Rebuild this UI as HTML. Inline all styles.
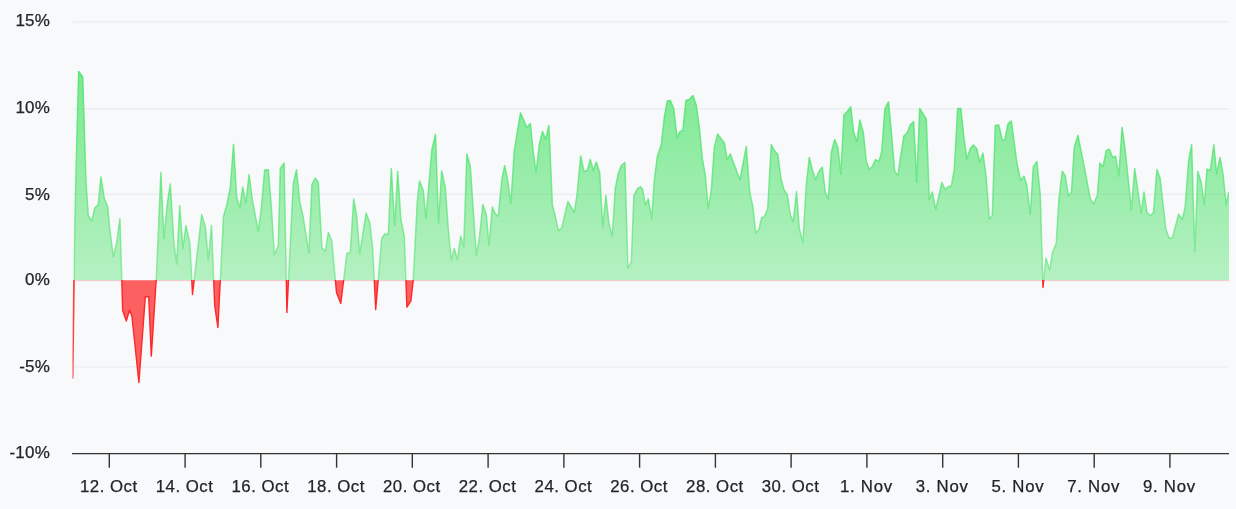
<!DOCTYPE html>
<html lang="en"><head><meta charset="utf-8"><title>Chart</title>
<style>
html,body{margin:0;padding:0;background:#f8f9fa;}
body{width:1236px;height:509px;overflow:hidden;}
svg{display:block;will-change:transform;}
text{font-family:"Liberation Sans", Arial, sans-serif;font-size:17px;fill:#212529;stroke:#212529;stroke-width:0.25px;}
.xl{font-size:16.8px;letter-spacing:0.5px;}
.xn{letter-spacing:0.72px;}
.yl{letter-spacing:0.2px;}
</style></head><body>
<svg width="1236" height="509" viewBox="0 0 1236 509">
<defs>
<linearGradient id="gg" gradientUnits="userSpaceOnUse" x1="0" y1="21" x2="0" y2="452">
<stop offset="0" stop-color="#55e472" stop-opacity="0.856"/>
<stop offset="1" stop-color="#55e472" stop-opacity="0.116"/>
</linearGradient>
<linearGradient id="lg" gradientUnits="userSpaceOnUse" x1="0" y1="21" x2="0" y2="452">
<stop offset="0" stop-color="#55e472" stop-opacity="1"/>
<stop offset="1" stop-color="#55e472" stop-opacity="0.3"/>
</linearGradient>
<clipPath id="cpos"><rect x="73" y="0" width="1156" height="280.0"/></clipPath>
<clipPath id="cneg"><rect x="76" y="280.0" width="1153" height="180"/></clipPath>
<clipPath id="cneg0"><rect x="72.5" y="280.0" width="4" height="180"/></clipPath>
</defs>
<rect x="0" y="0" width="1236" height="509" fill="#f8f9fa"/>

<path d="M73 21.8 H1229" stroke="#e9ecf0" stroke-width="1.2" fill="none"/>
<path d="M73 108.85 H1229" stroke="#e9ecf0" stroke-width="1.2" fill="none"/>
<path d="M73 194.3 H1229" stroke="#e9ecf0" stroke-width="1.2" fill="none"/>
<path d="M73 281.0 H1229" stroke="#e9ecf0" stroke-width="1.2" fill="none"/>
<path d="M73 366.8 H1229" stroke="#e9ecf0" stroke-width="1.2" fill="none"/>
<g clip-path="url(#cpos)"><g transform="translate(0.3,0.5)"><path d="M73.0 377.0 L74.5 225.0 L76.5 140.0 L78.4 71.0 L82.4 76.5 L84.4 140.0 L85.6 180.0 L88.0 215.0 L91.4 220.6 L94.4 207.6 L98.0 204.0 L100.6 176.6 L104.0 198.0 L107.4 206.0 L109.4 228.0 L113.0 256.4 L116.4 242.0 L119.6 218.0 L122.4 310.0 L126.0 320.6 L129.2 309.5 L131.6 315.5 L138.6 382.0 L145.0 296.4 L148.4 296.0 L151.0 355.6 L155.9 279.5 L157.6 241.5 L160.6 172.0 L163.6 238.0 L167.0 203.0 L170.0 183.6 L173.6 242.0 L176.4 263.4 L179.4 205.0 L182.6 248.0 L185.6 225.0 L189.6 243.0 L192.2 294.0 L201.4 214.0 L205.0 226.0 L208.0 259.4 L211.2 225.0 L214.4 305.0 L217.6 327.0 L223.2 216.0 L226.6 204.0 L230.0 187.0 L233.2 144.0 L236.4 197.0 L239.6 207.6 L242.4 186.4 L245.6 202.4 L248.8 174.0 L252.0 199.0 L258.0 231.0 L261.0 208.0 L264.4 169.6 L268.0 169.2 L271.0 206.0 L274.0 254.4 L278.0 245.0 L280.0 168.0 L283.8 162.6 L286.6 312.0 L293.0 183.0 L296.2 169.2 L299.4 201.0 L302.6 215.0 L308.6 252.6 L311.6 184.0 L315.0 177.6 L318.0 182.0 L321.6 247.0 L325.0 251.0 L328.0 232.0 L331.4 240.0 L336.2 292.0 L340.5 303.0 L346.6 253.0 L350.0 252.0 L353.4 198.4 L356.6 217.0 L359.4 253.4 L365.8 212.6 L369.4 222.0 L372.4 248.0 L375.4 309.0 L381.4 238.0 L384.4 233.4 L388.0 234.0 L391.0 168.0 L394.4 225.0 L397.4 171.0 L400.6 219.0 L404.0 236.0 L406.6 306.6 L410.5 300.7 L412.9 280.0 L417.0 201.0 L419.2 180.4 L423.0 190.0 L425.6 218.0 L431.6 149.0 L435.2 134.0 L438.2 222.6 L441.4 170.4 L445.0 187.0 L448.0 229.0 L451.0 259.4 L454.0 248.0 L457.0 259.4 L460.4 235.4 L463.4 246.6 L466.6 153.6 L470.0 166.0 L476.0 254.6 L479.0 238.0 L482.6 204.0 L486.0 214.0 L488.6 245.0 L492.0 206.4 L495.0 213.4 L498.0 215.6 L501.4 180.0 L504.4 165.0 L507.4 180.0 L510.6 203.0 L514.0 150.0 L520.2 112.4 L526.6 127.0 L530.0 123.0 L533.0 152.0 L535.8 172.0 L539.0 144.0 L542.2 131.0 L545.4 139.0 L548.6 125.0 L551.0 180.0 L552.0 204.0 L555.0 216.0 L558.0 230.0 L561.6 227.0 L567.6 201.0 L574.0 212.0 L577.0 192.0 L580.4 155.4 L583.6 171.0 L587.0 170.0 L590.0 159.0 L593.0 170.0 L596.0 161.4 L599.4 172.0 L602.4 226.4 L605.6 195.0 L608.6 223.0 L612.0 235.6 L615.0 188.0 L618.0 173.0 L621.0 165.0 L624.6 162.0 L627.6 268.0 L631.0 261.0 L633.6 195.0 L637.0 188.4 L640.0 186.3 L642.4 189.0 L645.0 204.4 L648.0 198.4 L651.4 218.4 L654.0 180.0 L657.0 156.0 L661.0 144.0 L664.0 117.0 L667.0 100.4 L670.0 100.0 L673.4 108.0 L676.8 137.4 L679.4 131.4 L682.6 129.6 L685.6 100.0 L689.0 99.0 L692.6 95.0 L696.0 105.0 L699.0 127.0 L702.0 158.0 L705.0 175.0 L708.0 208.0 L711.0 190.0 L714.0 147.0 L717.4 133.6 L724.0 142.4 L727.0 159.4 L730.0 153.4 L739.6 179.5 L746.0 146.0 L749.0 187.0 L750.0 195.0 L752.6 206.0 L755.4 232.4 L758.6 229.0 L761.4 217.0 L764.0 216.4 L767.4 208.4 L771.0 144.0 L774.0 150.0 L777.6 154.0 L780.6 178.0 L783.6 189.0 L787.0 194.4 L790.0 214.0 L793.0 221.4 L796.2 191.0 L799.0 228.0 L802.6 242.4 L806.0 184.0 L809.0 157.0 L812.2 170.0 L815.4 179.0 L818.6 171.0 L822.0 166.6 L825.0 192.0 L828.0 198.6 L831.0 152.0 L834.4 139.0 L837.6 147.0 L840.6 174.0 L843.6 114.6 L847.0 111.0 L850.4 106.4 L853.4 132.0 L856.6 141.0 L859.6 119.6 L863.0 132.0 L866.0 161.0 L869.0 169.0 L872.0 166.0 L875.2 159.0 L878.6 161.4 L881.4 151.0 L884.6 108.4 L888.2 101.4 L891.0 131.0 L894.4 171.0 L897.6 175.0 L900.6 154.0 L903.6 135.6 L907.0 132.0 L910.0 124.4 L913.4 121.0 L916.4 181.6 L919.4 108.0 L926.0 118.6 L929.0 199.0 L932.0 191.5 L935.4 209.0 L941.6 182.0 L945.0 189.4 L947.4 186.4 L951.0 185.6 L954.0 169.0 L957.4 108.0 L960.6 108.0 L963.6 137.0 L966.6 158.6 L970.0 148.0 L973.0 144.4 L976.4 148.0 L979.6 162.0 L982.6 152.6 L985.6 174.0 L989.0 218.4 L992.0 215.0 L995.0 125.0 L998.4 124.4 L1002.0 139.6 L1004.4 139.6 L1007.6 123.6 L1011.0 120.4 L1014.0 143.0 L1017.0 165.0 L1020.4 180.0 L1023.6 175.6 L1026.4 184.0 L1030.0 214.0 L1033.0 166.4 L1036.6 161.0 L1040.0 195.0 L1040.8 224.0 L1042.7 287.0 L1045.7 257.4 L1049.4 269.8 L1052.2 252.0 L1055.9 243.0 L1058.7 198.0 L1062.0 170.7 L1065.0 175.5 L1068.0 195.4 L1071.2 191.5 L1074.0 146.4 L1077.6 135.0 L1083.7 165.0 L1090.0 198.4 L1093.3 203.4 L1097.0 194.7 L1099.6 162.6 L1102.7 166.3 L1106.0 150.0 L1109.0 148.8 L1112.4 157.0 L1115.3 155.8 L1118.5 175.5 L1121.8 127.0 L1124.7 148.0 L1131.1 209.2 L1134.4 168.0 L1140.9 213.0 L1143.7 191.4 L1146.7 212.0 L1150.2 215.3 L1153.2 212.0 L1156.6 169.0 L1159.8 178.0 L1165.7 229.3 L1169.0 238.0 L1172.2 237.0 L1178.3 213.8 L1182.0 219.0 L1184.8 206.6 L1188.4 160.0 L1191.3 144.3 L1194.5 251.0 L1197.5 171.0 L1200.7 181.0 L1204.0 204.0 L1206.7 168.6 L1210.0 170.0 L1213.5 144.3 L1216.4 173.4 L1219.7 157.0 L1222.9 174.7 L1225.8 204.0 L1228.5 191.7 L1229.0 193.0 L1229.0 279.65 L73.0 279.65 Z" fill="url(#gg)" stroke="none"/><path d="M73.0 377.0 L74.5 225.0 L76.5 140.0 L78.4 71.0 L82.4 76.5 L84.4 140.0 L85.6 180.0 L88.0 215.0 L91.4 220.6 L94.4 207.6 L98.0 204.0 L100.6 176.6 L104.0 198.0 L107.4 206.0 L109.4 228.0 L113.0 256.4 L116.4 242.0 L119.6 218.0 L122.4 310.0 L126.0 320.6 L129.2 309.5 L131.6 315.5 L138.6 382.0 L145.0 296.4 L148.4 296.0 L151.0 355.6 L155.9 279.5 L157.6 241.5 L160.6 172.0 L163.6 238.0 L167.0 203.0 L170.0 183.6 L173.6 242.0 L176.4 263.4 L179.4 205.0 L182.6 248.0 L185.6 225.0 L189.6 243.0 L192.2 294.0 L201.4 214.0 L205.0 226.0 L208.0 259.4 L211.2 225.0 L214.4 305.0 L217.6 327.0 L223.2 216.0 L226.6 204.0 L230.0 187.0 L233.2 144.0 L236.4 197.0 L239.6 207.6 L242.4 186.4 L245.6 202.4 L248.8 174.0 L252.0 199.0 L258.0 231.0 L261.0 208.0 L264.4 169.6 L268.0 169.2 L271.0 206.0 L274.0 254.4 L278.0 245.0 L280.0 168.0 L283.8 162.6 L286.6 312.0 L293.0 183.0 L296.2 169.2 L299.4 201.0 L302.6 215.0 L308.6 252.6 L311.6 184.0 L315.0 177.6 L318.0 182.0 L321.6 247.0 L325.0 251.0 L328.0 232.0 L331.4 240.0 L336.2 292.0 L340.5 303.0 L346.6 253.0 L350.0 252.0 L353.4 198.4 L356.6 217.0 L359.4 253.4 L365.8 212.6 L369.4 222.0 L372.4 248.0 L375.4 309.0 L381.4 238.0 L384.4 233.4 L388.0 234.0 L391.0 168.0 L394.4 225.0 L397.4 171.0 L400.6 219.0 L404.0 236.0 L406.6 306.6 L410.5 300.7 L412.9 280.0 L417.0 201.0 L419.2 180.4 L423.0 190.0 L425.6 218.0 L431.6 149.0 L435.2 134.0 L438.2 222.6 L441.4 170.4 L445.0 187.0 L448.0 229.0 L451.0 259.4 L454.0 248.0 L457.0 259.4 L460.4 235.4 L463.4 246.6 L466.6 153.6 L470.0 166.0 L476.0 254.6 L479.0 238.0 L482.6 204.0 L486.0 214.0 L488.6 245.0 L492.0 206.4 L495.0 213.4 L498.0 215.6 L501.4 180.0 L504.4 165.0 L507.4 180.0 L510.6 203.0 L514.0 150.0 L520.2 112.4 L526.6 127.0 L530.0 123.0 L533.0 152.0 L535.8 172.0 L539.0 144.0 L542.2 131.0 L545.4 139.0 L548.6 125.0 L551.0 180.0 L552.0 204.0 L555.0 216.0 L558.0 230.0 L561.6 227.0 L567.6 201.0 L574.0 212.0 L577.0 192.0 L580.4 155.4 L583.6 171.0 L587.0 170.0 L590.0 159.0 L593.0 170.0 L596.0 161.4 L599.4 172.0 L602.4 226.4 L605.6 195.0 L608.6 223.0 L612.0 235.6 L615.0 188.0 L618.0 173.0 L621.0 165.0 L624.6 162.0 L627.6 268.0 L631.0 261.0 L633.6 195.0 L637.0 188.4 L640.0 186.3 L642.4 189.0 L645.0 204.4 L648.0 198.4 L651.4 218.4 L654.0 180.0 L657.0 156.0 L661.0 144.0 L664.0 117.0 L667.0 100.4 L670.0 100.0 L673.4 108.0 L676.8 137.4 L679.4 131.4 L682.6 129.6 L685.6 100.0 L689.0 99.0 L692.6 95.0 L696.0 105.0 L699.0 127.0 L702.0 158.0 L705.0 175.0 L708.0 208.0 L711.0 190.0 L714.0 147.0 L717.4 133.6 L724.0 142.4 L727.0 159.4 L730.0 153.4 L739.6 179.5 L746.0 146.0 L749.0 187.0 L750.0 195.0 L752.6 206.0 L755.4 232.4 L758.6 229.0 L761.4 217.0 L764.0 216.4 L767.4 208.4 L771.0 144.0 L774.0 150.0 L777.6 154.0 L780.6 178.0 L783.6 189.0 L787.0 194.4 L790.0 214.0 L793.0 221.4 L796.2 191.0 L799.0 228.0 L802.6 242.4 L806.0 184.0 L809.0 157.0 L812.2 170.0 L815.4 179.0 L818.6 171.0 L822.0 166.6 L825.0 192.0 L828.0 198.6 L831.0 152.0 L834.4 139.0 L837.6 147.0 L840.6 174.0 L843.6 114.6 L847.0 111.0 L850.4 106.4 L853.4 132.0 L856.6 141.0 L859.6 119.6 L863.0 132.0 L866.0 161.0 L869.0 169.0 L872.0 166.0 L875.2 159.0 L878.6 161.4 L881.4 151.0 L884.6 108.4 L888.2 101.4 L891.0 131.0 L894.4 171.0 L897.6 175.0 L900.6 154.0 L903.6 135.6 L907.0 132.0 L910.0 124.4 L913.4 121.0 L916.4 181.6 L919.4 108.0 L926.0 118.6 L929.0 199.0 L932.0 191.5 L935.4 209.0 L941.6 182.0 L945.0 189.4 L947.4 186.4 L951.0 185.6 L954.0 169.0 L957.4 108.0 L960.6 108.0 L963.6 137.0 L966.6 158.6 L970.0 148.0 L973.0 144.4 L976.4 148.0 L979.6 162.0 L982.6 152.6 L985.6 174.0 L989.0 218.4 L992.0 215.0 L995.0 125.0 L998.4 124.4 L1002.0 139.6 L1004.4 139.6 L1007.6 123.6 L1011.0 120.4 L1014.0 143.0 L1017.0 165.0 L1020.4 180.0 L1023.6 175.6 L1026.4 184.0 L1030.0 214.0 L1033.0 166.4 L1036.6 161.0 L1040.0 195.0 L1040.8 224.0 L1042.7 287.0 L1045.7 257.4 L1049.4 269.8 L1052.2 252.0 L1055.9 243.0 L1058.7 198.0 L1062.0 170.7 L1065.0 175.5 L1068.0 195.4 L1071.2 191.5 L1074.0 146.4 L1077.6 135.0 L1083.7 165.0 L1090.0 198.4 L1093.3 203.4 L1097.0 194.7 L1099.6 162.6 L1102.7 166.3 L1106.0 150.0 L1109.0 148.8 L1112.4 157.0 L1115.3 155.8 L1118.5 175.5 L1121.8 127.0 L1124.7 148.0 L1131.1 209.2 L1134.4 168.0 L1140.9 213.0 L1143.7 191.4 L1146.7 212.0 L1150.2 215.3 L1153.2 212.0 L1156.6 169.0 L1159.8 178.0 L1165.7 229.3 L1169.0 238.0 L1172.2 237.0 L1178.3 213.8 L1182.0 219.0 L1184.8 206.6 L1188.4 160.0 L1191.3 144.3 L1194.5 251.0 L1197.5 171.0 L1200.7 181.0 L1204.0 204.0 L1206.7 168.6 L1210.0 170.0 L1213.5 144.3 L1216.4 173.4 L1219.7 157.0 L1222.9 174.7 L1225.8 204.0 L1228.5 191.7 L1229.0 193.0" fill="none" stroke="url(#lg)" stroke-width="1.5" stroke-linejoin="round" stroke-linecap="round"/></g></g>
<g clip-path="url(#cneg)"><g transform="translate(0.3,0.5)"><path d="M73.0 377.0 L74.5 225.0 L76.5 140.0 L78.4 71.0 L82.4 76.5 L84.4 140.0 L85.6 180.0 L88.0 215.0 L91.4 220.6 L94.4 207.6 L98.0 204.0 L100.6 176.6 L104.0 198.0 L107.4 206.0 L109.4 228.0 L113.0 256.4 L116.4 242.0 L119.6 218.0 L122.4 310.0 L126.0 320.6 L129.2 309.5 L131.6 315.5 L138.6 382.0 L145.0 296.4 L148.4 296.0 L151.0 355.6 L155.9 279.5 L157.6 241.5 L160.6 172.0 L163.6 238.0 L167.0 203.0 L170.0 183.6 L173.6 242.0 L176.4 263.4 L179.4 205.0 L182.6 248.0 L185.6 225.0 L189.6 243.0 L192.2 294.0 L201.4 214.0 L205.0 226.0 L208.0 259.4 L211.2 225.0 L214.4 305.0 L217.6 327.0 L223.2 216.0 L226.6 204.0 L230.0 187.0 L233.2 144.0 L236.4 197.0 L239.6 207.6 L242.4 186.4 L245.6 202.4 L248.8 174.0 L252.0 199.0 L258.0 231.0 L261.0 208.0 L264.4 169.6 L268.0 169.2 L271.0 206.0 L274.0 254.4 L278.0 245.0 L280.0 168.0 L283.8 162.6 L286.6 312.0 L293.0 183.0 L296.2 169.2 L299.4 201.0 L302.6 215.0 L308.6 252.6 L311.6 184.0 L315.0 177.6 L318.0 182.0 L321.6 247.0 L325.0 251.0 L328.0 232.0 L331.4 240.0 L336.2 292.0 L340.5 303.0 L346.6 253.0 L350.0 252.0 L353.4 198.4 L356.6 217.0 L359.4 253.4 L365.8 212.6 L369.4 222.0 L372.4 248.0 L375.4 309.0 L381.4 238.0 L384.4 233.4 L388.0 234.0 L391.0 168.0 L394.4 225.0 L397.4 171.0 L400.6 219.0 L404.0 236.0 L406.6 306.6 L410.5 300.7 L412.9 280.0 L417.0 201.0 L419.2 180.4 L423.0 190.0 L425.6 218.0 L431.6 149.0 L435.2 134.0 L438.2 222.6 L441.4 170.4 L445.0 187.0 L448.0 229.0 L451.0 259.4 L454.0 248.0 L457.0 259.4 L460.4 235.4 L463.4 246.6 L466.6 153.6 L470.0 166.0 L476.0 254.6 L479.0 238.0 L482.6 204.0 L486.0 214.0 L488.6 245.0 L492.0 206.4 L495.0 213.4 L498.0 215.6 L501.4 180.0 L504.4 165.0 L507.4 180.0 L510.6 203.0 L514.0 150.0 L520.2 112.4 L526.6 127.0 L530.0 123.0 L533.0 152.0 L535.8 172.0 L539.0 144.0 L542.2 131.0 L545.4 139.0 L548.6 125.0 L551.0 180.0 L552.0 204.0 L555.0 216.0 L558.0 230.0 L561.6 227.0 L567.6 201.0 L574.0 212.0 L577.0 192.0 L580.4 155.4 L583.6 171.0 L587.0 170.0 L590.0 159.0 L593.0 170.0 L596.0 161.4 L599.4 172.0 L602.4 226.4 L605.6 195.0 L608.6 223.0 L612.0 235.6 L615.0 188.0 L618.0 173.0 L621.0 165.0 L624.6 162.0 L627.6 268.0 L631.0 261.0 L633.6 195.0 L637.0 188.4 L640.0 186.3 L642.4 189.0 L645.0 204.4 L648.0 198.4 L651.4 218.4 L654.0 180.0 L657.0 156.0 L661.0 144.0 L664.0 117.0 L667.0 100.4 L670.0 100.0 L673.4 108.0 L676.8 137.4 L679.4 131.4 L682.6 129.6 L685.6 100.0 L689.0 99.0 L692.6 95.0 L696.0 105.0 L699.0 127.0 L702.0 158.0 L705.0 175.0 L708.0 208.0 L711.0 190.0 L714.0 147.0 L717.4 133.6 L724.0 142.4 L727.0 159.4 L730.0 153.4 L739.6 179.5 L746.0 146.0 L749.0 187.0 L750.0 195.0 L752.6 206.0 L755.4 232.4 L758.6 229.0 L761.4 217.0 L764.0 216.4 L767.4 208.4 L771.0 144.0 L774.0 150.0 L777.6 154.0 L780.6 178.0 L783.6 189.0 L787.0 194.4 L790.0 214.0 L793.0 221.4 L796.2 191.0 L799.0 228.0 L802.6 242.4 L806.0 184.0 L809.0 157.0 L812.2 170.0 L815.4 179.0 L818.6 171.0 L822.0 166.6 L825.0 192.0 L828.0 198.6 L831.0 152.0 L834.4 139.0 L837.6 147.0 L840.6 174.0 L843.6 114.6 L847.0 111.0 L850.4 106.4 L853.4 132.0 L856.6 141.0 L859.6 119.6 L863.0 132.0 L866.0 161.0 L869.0 169.0 L872.0 166.0 L875.2 159.0 L878.6 161.4 L881.4 151.0 L884.6 108.4 L888.2 101.4 L891.0 131.0 L894.4 171.0 L897.6 175.0 L900.6 154.0 L903.6 135.6 L907.0 132.0 L910.0 124.4 L913.4 121.0 L916.4 181.6 L919.4 108.0 L926.0 118.6 L929.0 199.0 L932.0 191.5 L935.4 209.0 L941.6 182.0 L945.0 189.4 L947.4 186.4 L951.0 185.6 L954.0 169.0 L957.4 108.0 L960.6 108.0 L963.6 137.0 L966.6 158.6 L970.0 148.0 L973.0 144.4 L976.4 148.0 L979.6 162.0 L982.6 152.6 L985.6 174.0 L989.0 218.4 L992.0 215.0 L995.0 125.0 L998.4 124.4 L1002.0 139.6 L1004.4 139.6 L1007.6 123.6 L1011.0 120.4 L1014.0 143.0 L1017.0 165.0 L1020.4 180.0 L1023.6 175.6 L1026.4 184.0 L1030.0 214.0 L1033.0 166.4 L1036.6 161.0 L1040.0 195.0 L1040.8 224.0 L1042.7 287.0 L1045.7 257.4 L1049.4 269.8 L1052.2 252.0 L1055.9 243.0 L1058.7 198.0 L1062.0 170.7 L1065.0 175.5 L1068.0 195.4 L1071.2 191.5 L1074.0 146.4 L1077.6 135.0 L1083.7 165.0 L1090.0 198.4 L1093.3 203.4 L1097.0 194.7 L1099.6 162.6 L1102.7 166.3 L1106.0 150.0 L1109.0 148.8 L1112.4 157.0 L1115.3 155.8 L1118.5 175.5 L1121.8 127.0 L1124.7 148.0 L1131.1 209.2 L1134.4 168.0 L1140.9 213.0 L1143.7 191.4 L1146.7 212.0 L1150.2 215.3 L1153.2 212.0 L1156.6 169.0 L1159.8 178.0 L1165.7 229.3 L1169.0 238.0 L1172.2 237.0 L1178.3 213.8 L1182.0 219.0 L1184.8 206.6 L1188.4 160.0 L1191.3 144.3 L1194.5 251.0 L1197.5 171.0 L1200.7 181.0 L1204.0 204.0 L1206.7 168.6 L1210.0 170.0 L1213.5 144.3 L1216.4 173.4 L1219.7 157.0 L1222.9 174.7 L1225.8 204.0 L1228.5 191.7 L1229.0 193.0 L1229.0 279.65 L73.0 279.65 Z" fill="#fd6060" fill-opacity="1" stroke="none"/><path d="M73.0 377.0 L74.5 225.0 L76.5 140.0 L78.4 71.0 L82.4 76.5 L84.4 140.0 L85.6 180.0 L88.0 215.0 L91.4 220.6 L94.4 207.6 L98.0 204.0 L100.6 176.6 L104.0 198.0 L107.4 206.0 L109.4 228.0 L113.0 256.4 L116.4 242.0 L119.6 218.0 L122.4 310.0 L126.0 320.6 L129.2 309.5 L131.6 315.5 L138.6 382.0 L145.0 296.4 L148.4 296.0 L151.0 355.6 L155.9 279.5 L157.6 241.5 L160.6 172.0 L163.6 238.0 L167.0 203.0 L170.0 183.6 L173.6 242.0 L176.4 263.4 L179.4 205.0 L182.6 248.0 L185.6 225.0 L189.6 243.0 L192.2 294.0 L201.4 214.0 L205.0 226.0 L208.0 259.4 L211.2 225.0 L214.4 305.0 L217.6 327.0 L223.2 216.0 L226.6 204.0 L230.0 187.0 L233.2 144.0 L236.4 197.0 L239.6 207.6 L242.4 186.4 L245.6 202.4 L248.8 174.0 L252.0 199.0 L258.0 231.0 L261.0 208.0 L264.4 169.6 L268.0 169.2 L271.0 206.0 L274.0 254.4 L278.0 245.0 L280.0 168.0 L283.8 162.6 L286.6 312.0 L293.0 183.0 L296.2 169.2 L299.4 201.0 L302.6 215.0 L308.6 252.6 L311.6 184.0 L315.0 177.6 L318.0 182.0 L321.6 247.0 L325.0 251.0 L328.0 232.0 L331.4 240.0 L336.2 292.0 L340.5 303.0 L346.6 253.0 L350.0 252.0 L353.4 198.4 L356.6 217.0 L359.4 253.4 L365.8 212.6 L369.4 222.0 L372.4 248.0 L375.4 309.0 L381.4 238.0 L384.4 233.4 L388.0 234.0 L391.0 168.0 L394.4 225.0 L397.4 171.0 L400.6 219.0 L404.0 236.0 L406.6 306.6 L410.5 300.7 L412.9 280.0 L417.0 201.0 L419.2 180.4 L423.0 190.0 L425.6 218.0 L431.6 149.0 L435.2 134.0 L438.2 222.6 L441.4 170.4 L445.0 187.0 L448.0 229.0 L451.0 259.4 L454.0 248.0 L457.0 259.4 L460.4 235.4 L463.4 246.6 L466.6 153.6 L470.0 166.0 L476.0 254.6 L479.0 238.0 L482.6 204.0 L486.0 214.0 L488.6 245.0 L492.0 206.4 L495.0 213.4 L498.0 215.6 L501.4 180.0 L504.4 165.0 L507.4 180.0 L510.6 203.0 L514.0 150.0 L520.2 112.4 L526.6 127.0 L530.0 123.0 L533.0 152.0 L535.8 172.0 L539.0 144.0 L542.2 131.0 L545.4 139.0 L548.6 125.0 L551.0 180.0 L552.0 204.0 L555.0 216.0 L558.0 230.0 L561.6 227.0 L567.6 201.0 L574.0 212.0 L577.0 192.0 L580.4 155.4 L583.6 171.0 L587.0 170.0 L590.0 159.0 L593.0 170.0 L596.0 161.4 L599.4 172.0 L602.4 226.4 L605.6 195.0 L608.6 223.0 L612.0 235.6 L615.0 188.0 L618.0 173.0 L621.0 165.0 L624.6 162.0 L627.6 268.0 L631.0 261.0 L633.6 195.0 L637.0 188.4 L640.0 186.3 L642.4 189.0 L645.0 204.4 L648.0 198.4 L651.4 218.4 L654.0 180.0 L657.0 156.0 L661.0 144.0 L664.0 117.0 L667.0 100.4 L670.0 100.0 L673.4 108.0 L676.8 137.4 L679.4 131.4 L682.6 129.6 L685.6 100.0 L689.0 99.0 L692.6 95.0 L696.0 105.0 L699.0 127.0 L702.0 158.0 L705.0 175.0 L708.0 208.0 L711.0 190.0 L714.0 147.0 L717.4 133.6 L724.0 142.4 L727.0 159.4 L730.0 153.4 L739.6 179.5 L746.0 146.0 L749.0 187.0 L750.0 195.0 L752.6 206.0 L755.4 232.4 L758.6 229.0 L761.4 217.0 L764.0 216.4 L767.4 208.4 L771.0 144.0 L774.0 150.0 L777.6 154.0 L780.6 178.0 L783.6 189.0 L787.0 194.4 L790.0 214.0 L793.0 221.4 L796.2 191.0 L799.0 228.0 L802.6 242.4 L806.0 184.0 L809.0 157.0 L812.2 170.0 L815.4 179.0 L818.6 171.0 L822.0 166.6 L825.0 192.0 L828.0 198.6 L831.0 152.0 L834.4 139.0 L837.6 147.0 L840.6 174.0 L843.6 114.6 L847.0 111.0 L850.4 106.4 L853.4 132.0 L856.6 141.0 L859.6 119.6 L863.0 132.0 L866.0 161.0 L869.0 169.0 L872.0 166.0 L875.2 159.0 L878.6 161.4 L881.4 151.0 L884.6 108.4 L888.2 101.4 L891.0 131.0 L894.4 171.0 L897.6 175.0 L900.6 154.0 L903.6 135.6 L907.0 132.0 L910.0 124.4 L913.4 121.0 L916.4 181.6 L919.4 108.0 L926.0 118.6 L929.0 199.0 L932.0 191.5 L935.4 209.0 L941.6 182.0 L945.0 189.4 L947.4 186.4 L951.0 185.6 L954.0 169.0 L957.4 108.0 L960.6 108.0 L963.6 137.0 L966.6 158.6 L970.0 148.0 L973.0 144.4 L976.4 148.0 L979.6 162.0 L982.6 152.6 L985.6 174.0 L989.0 218.4 L992.0 215.0 L995.0 125.0 L998.4 124.4 L1002.0 139.6 L1004.4 139.6 L1007.6 123.6 L1011.0 120.4 L1014.0 143.0 L1017.0 165.0 L1020.4 180.0 L1023.6 175.6 L1026.4 184.0 L1030.0 214.0 L1033.0 166.4 L1036.6 161.0 L1040.0 195.0 L1040.8 224.0 L1042.7 287.0 L1045.7 257.4 L1049.4 269.8 L1052.2 252.0 L1055.9 243.0 L1058.7 198.0 L1062.0 170.7 L1065.0 175.5 L1068.0 195.4 L1071.2 191.5 L1074.0 146.4 L1077.6 135.0 L1083.7 165.0 L1090.0 198.4 L1093.3 203.4 L1097.0 194.7 L1099.6 162.6 L1102.7 166.3 L1106.0 150.0 L1109.0 148.8 L1112.4 157.0 L1115.3 155.8 L1118.5 175.5 L1121.8 127.0 L1124.7 148.0 L1131.1 209.2 L1134.4 168.0 L1140.9 213.0 L1143.7 191.4 L1146.7 212.0 L1150.2 215.3 L1153.2 212.0 L1156.6 169.0 L1159.8 178.0 L1165.7 229.3 L1169.0 238.0 L1172.2 237.0 L1178.3 213.8 L1182.0 219.0 L1184.8 206.6 L1188.4 160.0 L1191.3 144.3 L1194.5 251.0 L1197.5 171.0 L1200.7 181.0 L1204.0 204.0 L1206.7 168.6 L1210.0 170.0 L1213.5 144.3 L1216.4 173.4 L1219.7 157.0 L1222.9 174.7 L1225.8 204.0 L1228.5 191.7 L1229.0 193.0" fill="none" stroke="#ff2828" stroke-width="1.4" stroke-linejoin="round" stroke-linecap="round"/></g></g>
<g clip-path="url(#cneg0)"><path d="M72.6 377.8 L74.0 280 L74.5 225" stroke="#ff3030" stroke-opacity="0.9" stroke-width="1.8" stroke-linecap="round" fill="none"/></g>
<path d="M72 453.6 H1229" stroke="#333" stroke-width="1.4" fill="none"/>
<path d="M109.3 453 V467.7" stroke="#333" stroke-width="1.4" fill="none"/>
<path d="M185.1 453 V467.7" stroke="#333" stroke-width="1.4" fill="none"/>
<path d="M260.8 453 V467.7" stroke="#333" stroke-width="1.4" fill="none"/>
<path d="M336.6 453 V467.7" stroke="#333" stroke-width="1.4" fill="none"/>
<path d="M412.3 453 V467.7" stroke="#333" stroke-width="1.4" fill="none"/>
<path d="M488.1 453 V467.7" stroke="#333" stroke-width="1.4" fill="none"/>
<path d="M563.9 453 V467.7" stroke="#333" stroke-width="1.4" fill="none"/>
<path d="M639.6 453 V467.7" stroke="#333" stroke-width="1.4" fill="none"/>
<path d="M715.4 453 V467.7" stroke="#333" stroke-width="1.4" fill="none"/>
<path d="M791.1 453 V467.7" stroke="#333" stroke-width="1.4" fill="none"/>
<path d="M866.9 453 V467.7" stroke="#333" stroke-width="1.4" fill="none"/>
<path d="M942.7 453 V467.7" stroke="#333" stroke-width="1.4" fill="none"/>
<path d="M1018.4 453 V467.7" stroke="#333" stroke-width="1.4" fill="none"/>
<path d="M1094.2 453 V467.7" stroke="#333" stroke-width="1.4" fill="none"/>
<path d="M1169.9 453 V467.7" stroke="#333" stroke-width="1.4" fill="none"/>
<text class="xl" x="108.8" y="491.8" text-anchor="middle">12. Oct</text>
<text class="xl" x="184.6" y="491.8" text-anchor="middle">14. Oct</text>
<text class="xl" x="260.3" y="491.8" text-anchor="middle">16. Oct</text>
<text class="xl" x="336.1" y="491.8" text-anchor="middle">18. Oct</text>
<text class="xl" x="411.8" y="491.8" text-anchor="middle">20. Oct</text>
<text class="xl" x="487.6" y="491.8" text-anchor="middle">22. Oct</text>
<text class="xl" x="563.4" y="491.8" text-anchor="middle">24. Oct</text>
<text class="xl" x="639.1" y="491.8" text-anchor="middle">26. Oct</text>
<text class="xl" x="714.9" y="491.8" text-anchor="middle">28. Oct</text>
<text class="xl" x="790.6" y="491.8" text-anchor="middle">30. Oct</text>
<text class="xl xn" x="866.4" y="491.8" text-anchor="middle">1. Nov</text>
<text class="xl xn" x="942.2" y="491.8" text-anchor="middle">3. Nov</text>
<text class="xl xn" x="1017.9" y="491.8" text-anchor="middle">5. Nov</text>
<text class="xl xn" x="1093.7" y="491.8" text-anchor="middle">7. Nov</text>
<text class="xl xn" x="1169.4" y="491.8" text-anchor="middle">9. Nov</text>
<text class="yl" x="50" y="26.0" text-anchor="end">15%</text>
<text class="yl" x="50" y="113.0" text-anchor="end">10%</text>
<text class="yl" x="50" y="200.0" text-anchor="end">5%</text>
<text class="yl" x="50" y="285.0" text-anchor="end">0%</text>
<text class="yl" x="50" y="372.0" text-anchor="end">-5%</text>
<text class="yl" x="50" y="458.0" text-anchor="end">-10%</text>
</svg></body></html>
